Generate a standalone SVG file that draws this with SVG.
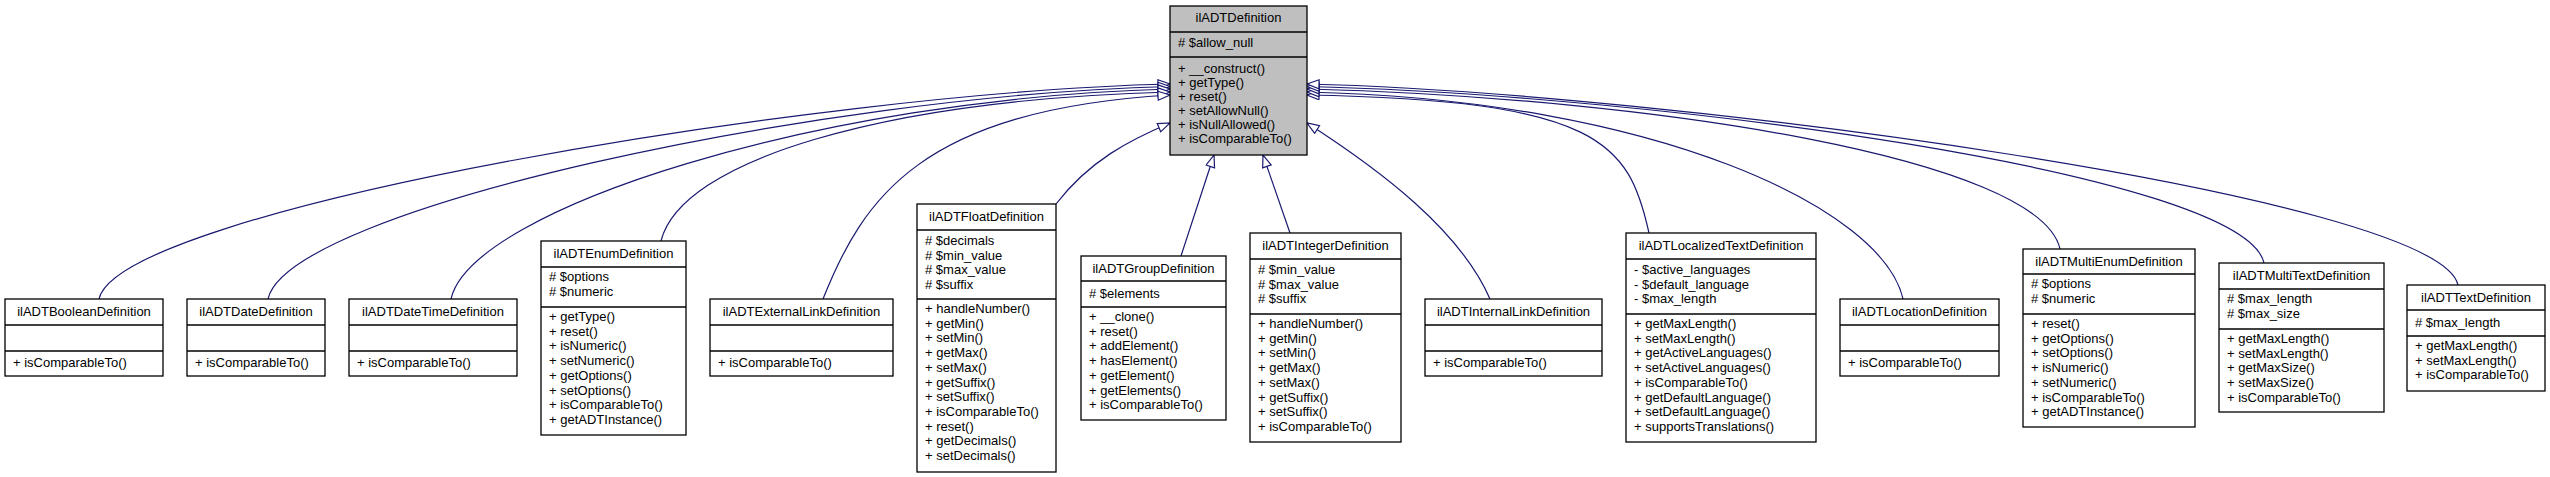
<svg xmlns="http://www.w3.org/2000/svg" width="2550" height="477" viewBox="0 0 2550 477">
<style>
text{font-family:"Liberation Sans",Arial,sans-serif;font-size:13px;fill:#000}
.t{text-anchor:middle}
.b{fill:#fff;stroke:#000;stroke-width:1.3}
.g{fill:#bfbfbf;stroke:#000;stroke-width:1.3}
.s{stroke:#000;stroke-width:1.3}
.e{fill:none;stroke:#191970;stroke-width:1.2;marker-end:url(#a)}
</style>
<defs><marker id="a" markerUnits="userSpaceOnUse" markerWidth="14" markerHeight="11" refX="13" refY="5" orient="auto"><path d="M1,0.5 L13,5 L1,9.5 Z" fill="#fff" stroke="#191970" stroke-width="1.2"/></marker></defs>
<g id="edges">
<path class="e" d="M99,299 C119,209 820,92 1170,84"/>
<path class="e" d="M268,299 C288,209 820,95 1170,86.5"/>
<path class="e" d="M451,299 C471,209 820,98 1170,89"/>
<path class="e" d="M661,241 C681,161 880,100 1170,92"/>
<path class="e" d="M823,299 C863,199 920,110 1170,95"/>
<path class="e" d="M1056,204 C1090,160 1130,140 1170,123"/>
<path class="e" d="M1181,256 L1214,155"/>
<path class="e" d="M1290,233 L1263,155"/>
<path class="e" d="M1490,299 C1460,230 1380,170 1307,123"/>
<path class="e" d="M1649,233 C1629,143 1600,100 1307,95"/>
<path class="e" d="M1903,299 C1883,209 1657,100 1307,92"/>
<path class="e" d="M2060,249 C2040,159 1657,98 1307,89"/>
<path class="e" d="M2264,263 C2244,173 1657,95 1307,86.5"/>
<path class="e" d="M2458,285 C2438,195 1657,92 1307,84"/>
</g>
<g id="ilADTDefinition"><rect class="g" x="1170" y="6" width="137" height="149"/><line class="s" x1="1170" y1="32" x2="1307" y2="32"/><line class="s" x1="1170" y1="57" x2="1307" y2="57"/>
<text class="t" x="1238.5" y="22">ilADTDefinition</text><text x="1178" y="47"># $allow_null</text>
<text x="1178" y="73">+ __construct()</text><text x="1178" y="87">+ getType()</text><text x="1178" y="101">+ reset()</text><text x="1178" y="115">+ setAllowNull()</text><text x="1178" y="129">+ isNullAllowed()</text><text x="1178" y="143">+ isComparableTo()</text></g>
<g id="ilADTBooleanDefinition"><rect class="b" x="5" y="299" width="158" height="77"/><line class="s" x1="5" y1="325" x2="163" y2="325"/><line class="s" x1="5" y1="351" x2="163" y2="351"/><text class="t" x="84" y="316">ilADTBooleanDefinition</text><text x="13" y="367">+ isComparableTo()</text></g>
<g id="ilADTDateDefinition"><rect class="b" x="187" y="299" width="138" height="77"/><line class="s" x1="187" y1="325" x2="325" y2="325"/><line class="s" x1="187" y1="351" x2="325" y2="351"/><text class="t" x="256" y="316">ilADTDateDefinition</text><text x="195" y="367">+ isComparableTo()</text></g>
<g id="ilADTDateTimeDefinition"><rect class="b" x="349" y="299" width="168" height="77"/><line class="s" x1="349" y1="325" x2="517" y2="325"/><line class="s" x1="349" y1="351" x2="517" y2="351"/><text class="t" x="433" y="316">ilADTDateTimeDefinition</text><text x="357" y="367">+ isComparableTo()</text></g>
<g id="ilADTEnumDefinition"><rect class="b" x="541" y="241" width="145" height="194"/><line class="s" x1="541" y1="267" x2="686" y2="267"/><line class="s" x1="541" y1="307" x2="686" y2="307"/><text class="t" x="613.5" y="258">ilADTEnumDefinition</text>
<text x="549" y="281"># $options</text><text x="549" y="295.7"># $numeric</text>
<text x="549" y="321">+ getType()</text><text x="549" y="335.7">+ reset()</text><text x="549" y="350.4">+ isNumeric()</text><text x="549" y="365.1">+ setNumeric()</text><text x="549" y="379.8">+ getOptions()</text><text x="549" y="394.5">+ setOptions()</text><text x="549" y="409.2">+ isComparableTo()</text><text x="549" y="423.9">+ getADTInstance()</text></g>
<g id="ilADTExternalLinkDefinition"><rect class="b" x="710" y="299" width="183" height="77"/><line class="s" x1="710" y1="325" x2="893" y2="325"/><line class="s" x1="710" y1="351" x2="893" y2="351"/><text class="t" x="801.5" y="316">ilADTExternalLinkDefinition</text><text x="718" y="367">+ isComparableTo()</text></g>
<g id="ilADTFloatDefinition"><rect class="b" x="917" y="204" width="139" height="268"/><line class="s" x1="917" y1="230" x2="1056" y2="230"/><line class="s" x1="917" y1="299" x2="1056" y2="299"/><text class="t" x="986.5" y="221">ilADTFloatDefinition</text>
<text x="925" y="245"># $decimals</text><text x="925" y="259.7"># $min_value</text><text x="925" y="274.4"># $max_value</text><text x="925" y="289.1"># $suffix</text>
<text x="925" y="313">+ handleNumber()</text><text x="925" y="327.7">+ getMin()</text><text x="925" y="342.4">+ setMin()</text><text x="925" y="357.1">+ getMax()</text><text x="925" y="371.8">+ setMax()</text><text x="925" y="386.5">+ getSuffix()</text><text x="925" y="401.2">+ setSuffix()</text><text x="925" y="415.9">+ isComparableTo()</text><text x="925" y="430.6">+ reset()</text><text x="925" y="445.3">+ getDecimals()</text><text x="925" y="460">+ setDecimals()</text></g>
<g id="ilADTGroupDefinition"><rect class="b" x="1081" y="256" width="145" height="164"/><line class="s" x1="1081" y1="281" x2="1226" y2="281"/><line class="s" x1="1081" y1="307" x2="1226" y2="307"/><text class="t" x="1153.5" y="273">ilADTGroupDefinition</text>
<text x="1089" y="298"># $elements</text>
<text x="1089" y="321">+ __clone()</text><text x="1089" y="335.7">+ reset()</text><text x="1089" y="350.4">+ addElement()</text><text x="1089" y="365.1">+ hasElement()</text><text x="1089" y="379.8">+ getElement()</text><text x="1089" y="394.5">+ getElements()</text><text x="1089" y="409.2">+ isComparableTo()</text></g>
<g id="ilADTIntegerDefinition"><rect class="b" x="1250" y="233" width="151" height="209"/><line class="s" x1="1250" y1="259" x2="1401" y2="259"/><line class="s" x1="1250" y1="314" x2="1401" y2="314"/><text class="t" x="1325.5" y="250">ilADTIntegerDefinition</text>
<text x="1258" y="274"># $min_value</text><text x="1258" y="288.7"># $max_value</text><text x="1258" y="303.4"># $suffix</text>
<text x="1258" y="328">+ handleNumber()</text><text x="1258" y="342.7">+ getMin()</text><text x="1258" y="357.4">+ setMin()</text><text x="1258" y="372.1">+ getMax()</text><text x="1258" y="386.8">+ setMax()</text><text x="1258" y="401.5">+ getSuffix()</text><text x="1258" y="416.2">+ setSuffix()</text><text x="1258" y="430.9">+ isComparableTo()</text></g>
<g id="ilADTInternalLinkDefinition"><rect class="b" x="1425" y="299" width="177" height="77"/><line class="s" x1="1425" y1="325" x2="1602" y2="325"/><line class="s" x1="1425" y1="351" x2="1602" y2="351"/><text class="t" x="1513.5" y="316">ilADTInternalLinkDefinition</text><text x="1433" y="367">+ isComparableTo()</text></g>
<g id="ilADTLocalizedTextDefinition"><rect class="b" x="1626" y="233" width="190" height="209"/><line class="s" x1="1626" y1="259" x2="1816" y2="259"/><line class="s" x1="1626" y1="314" x2="1816" y2="314"/><text class="t" x="1721" y="250">ilADTLocalizedTextDefinition</text>
<text x="1634" y="274">- $active_languages</text><text x="1634" y="288.7">- $default_language</text><text x="1634" y="303.4">- $max_length</text>
<text x="1634" y="328">+ getMaxLength()</text><text x="1634" y="342.7">+ setMaxLength()</text><text x="1634" y="357.4">+ getActiveLanguages()</text><text x="1634" y="372.1">+ setActiveLanguages()</text><text x="1634" y="386.8">+ isComparableTo()</text><text x="1634" y="401.5">+ getDefaultLanguage()</text><text x="1634" y="416.2">+ setDefaultLanguage()</text><text x="1634" y="430.9">+ supportsTranslations()</text></g>
<g id="ilADTLocationDefinition"><rect class="b" x="1840" y="299" width="159" height="77"/><line class="s" x1="1840" y1="325" x2="1999" y2="325"/><line class="s" x1="1840" y1="351" x2="1999" y2="351"/><text class="t" x="1919.5" y="316">ilADTLocationDefinition</text><text x="1848" y="367">+ isComparableTo()</text></g>
<g id="ilADTMultiEnumDefinition"><rect class="b" x="2023" y="249" width="172" height="178"/><line class="s" x1="2023" y1="274" x2="2195" y2="274"/><line class="s" x1="2023" y1="314" x2="2195" y2="314"/><text class="t" x="2109" y="266">ilADTMultiEnumDefinition</text>
<text x="2031" y="288"># $options</text><text x="2031" y="302.7"># $numeric</text>
<text x="2031" y="328">+ reset()</text><text x="2031" y="342.7">+ getOptions()</text><text x="2031" y="357.4">+ setOptions()</text><text x="2031" y="372.1">+ isNumeric()</text><text x="2031" y="386.8">+ setNumeric()</text><text x="2031" y="401.5">+ isComparableTo()</text><text x="2031" y="416.2">+ getADTInstance()</text></g>
<g id="ilADTMultiTextDefinition"><rect class="b" x="2219" y="263" width="165" height="149"/><line class="s" x1="2219" y1="289" x2="2384" y2="289"/><line class="s" x1="2219" y1="329" x2="2384" y2="329"/><text class="t" x="2301.5" y="280">ilADTMultiTextDefinition</text>
<text x="2227" y="303"># $max_length</text><text x="2227" y="317.7"># $max_size</text>
<text x="2227" y="343">+ getMaxLength()</text><text x="2227" y="357.7">+ setMaxLength()</text><text x="2227" y="372.4">+ getMaxSize()</text><text x="2227" y="387.1">+ setMaxSize()</text><text x="2227" y="401.8">+ isComparableTo()</text></g>
<g id="ilADTTextDefinition"><rect class="b" x="2407" y="285" width="138" height="106"/><line class="s" x1="2407" y1="310" x2="2545" y2="310"/><line class="s" x1="2407" y1="336" x2="2545" y2="336"/><text class="t" x="2476" y="302">ilADTTextDefinition</text>
<text x="2415" y="327"># $max_length</text>
<text x="2415" y="350">+ getMaxLength()</text><text x="2415" y="364.7">+ setMaxLength()</text><text x="2415" y="379.4">+ isComparableTo()</text></g>
</svg>
